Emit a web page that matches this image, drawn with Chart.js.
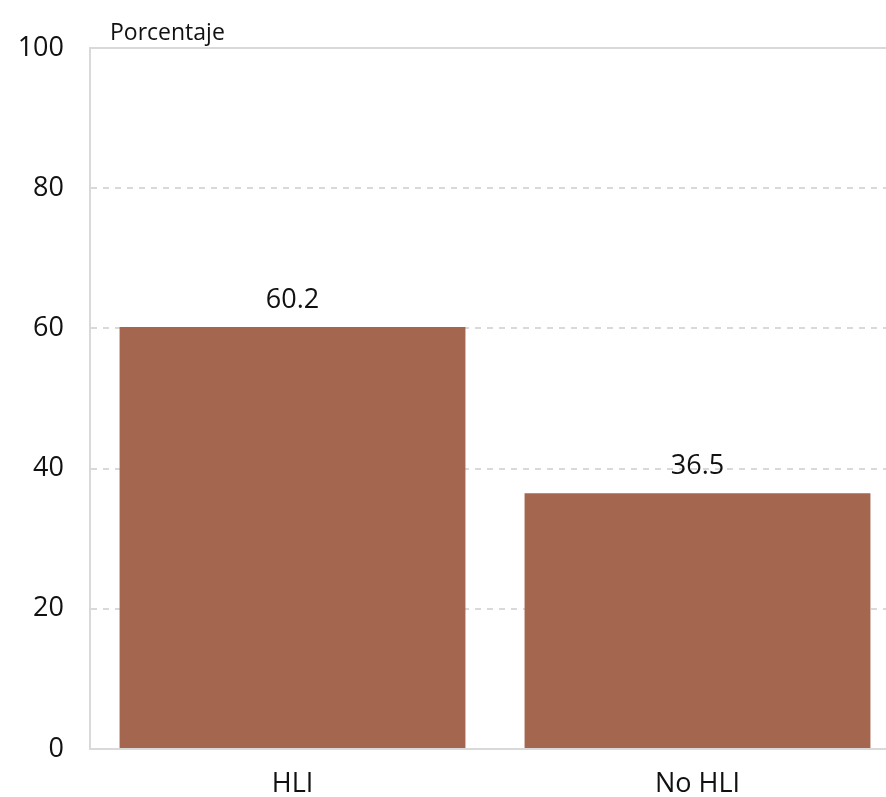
<!DOCTYPE html>
<html>
<head>
<meta charset="utf-8">
<script src="https://cdn.jsdelivr.net/npm/chart.js@4"></script>
<style>
  html, body { margin:0; padding:0; background:#fff; overflow:hidden; }
  #wrap { width:900px; height:797px; }
</style>
</head>
<body>
<div id="wrap"><canvas id="chart" width="900" height="797"></canvas></div>
<script>
const categories = ['HLI', 'No HLI'];
const values = [60.2, 36.5];
const yTicks = [0, 20, 40, 60, 80, 100];
const axisTitle = 'Porcentaje';

const FONT = '"Open Sans", "Noto Sans", sans-serif';
const GRID = '#d9d9d9';

// etiquetas sobre las barras + titulo del eje + linea superior
const extras = {
  id: 'extras',
  afterDatasetsDraw(chart) {
    const {ctx, chartArea, scales} = chart;
    ctx.save();
    // linea solida en 100
    const yTop = scales.y.getPixelForValue(yTicks[yTicks.length - 1]);
    ctx.strokeStyle = GRID;
    ctx.lineWidth = 2;
    ctx.beginPath();
    ctx.moveTo(chartArea.left, yTop);
    ctx.lineTo(chartArea.right, yTop);
    ctx.stroke();

    ctx.fillStyle = '#111';
    ctx.font = '27px ' + FONT;
    ctx.textAlign = 'center';
    ctx.textBaseline = 'middle';
    chart.getDatasetMeta(0).data.forEach((bar, i) => {
      ctx.fillText(values[i].toFixed(1), bar.x, bar.y - 27);
    });

    ctx.font = '23px ' + FONT;
    ctx.textAlign = 'left';
    ctx.fillText(axisTitle, chartArea.left + 20, yTop - 15);
    ctx.restore();
  }
};

new Chart(document.getElementById('chart'), {
  type: 'bar',
  data: {
    labels: categories,
    datasets: [{
      data: values,
      backgroundColor: '#a5664f',
      barPercentage: 0.854,
      categoryPercentage: 1
    }]
  },
  options: {
    responsive: false,
    animation: false,
    layout: { padding: { top: 48, left: 0, right: 0, bottom: 0 } },
    plugins: { legend: { display: false }, tooltip: { enabled: false } },
    scales: {
      x: {
        grid: { display: false },
        border: { color: GRID, width: 2 },
        ticks: { color: '#111', font: { family: FONT, size: 27 }, padding: 11 },
        afterFit(s) { s.height = 48; }
      },
      y: {
        min: 0, max: 100,
        afterBuildTicks(s) { s.ticks = yTicks.map(v => ({ value: v })); },
        grid: { color: GRID, lineWidth: 2, drawTicks: false },
        border: { color: GRID, width: 2, dash: [6, 6] },
        ticks: { color: '#111', font: { family: FONT, size: 27 }, padding: 26 },
        afterFit(s) { s.width = 90; }
      }
    }
  },
  plugins: [extras]
});
</script>
</body>
</html>
